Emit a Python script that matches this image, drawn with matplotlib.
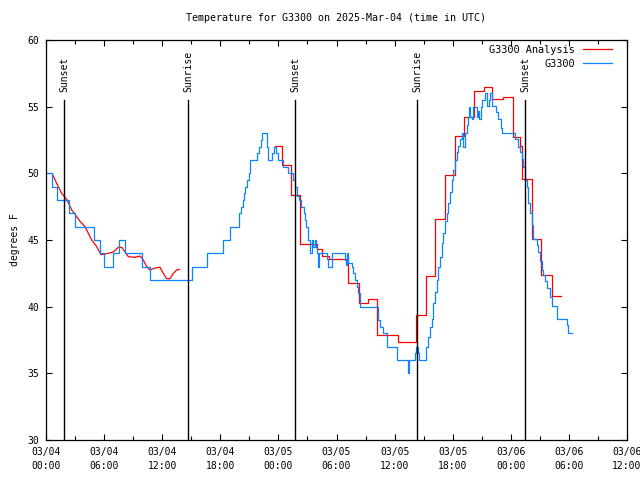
import numpy as np
import pandas as pd
import matplotlib
matplotlib.use('Agg')
import matplotlib.pyplot as plt
import matplotlib.dates as mdates

# hours since 2025-03-04 00:00 UTC
start = pd.Timestamp('2025-03-04 00:00')

# G3300 observations (step changes)
obs_hours = [0.0, 0.65, 1.1, 2.4, 3.0, 5.0, 5.6, 6.0, 6.9, 7.55, 8.2, 9.95, 10.75,
             15.1, 16.6, 18.25, 19.0, 19.9, 20.1, 20.3, 20.45, 20.6, 20.8, 20.95, 21.07,
             21.8, 22.0, 22.2, 22.3, 22.8, 22.9, 23.3, 23.55, 23.8, 24.0, 24.5, 25.0,
             25.5, 25.7, 25.9, 26.1, 26.3, 26.6, 26.75, 26.9, 27.1, 27.26, 27.43, 27.6,
             27.77, 27.87, 28.0, 28.12, 28.22, 28.99, 29.15, 29.5, 30.9, 31.0, 31.1, 31.2,
             31.57, 31.74, 31.91, 32.09, 32.25, 32.43, 34.32, 34.49, 34.83, 35.19, 36.22,
             37.35, 37.42, 37.52, 38.11, 38.21, 38.4, 38.55, 39.24, 39.48, 39.66, 39.83,
             40.0, 40.17, 40.35, 40.51, 40.69, 40.86, 41.03, 41.21, 41.38, 41.55, 41.72,
             41.9, 42.06, 42.24, 42.41, 42.58, 42.76, 42.93, 43.1, 43.25, 43.45, 43.61,
             43.72, 43.8, 43.96, 44.13, 44.48, 44.6, 44.7, 44.9, 45.05, 45.34, 45.58, 45.7,
             45.85, 46.03, 46.47, 46.71, 46.99, 47.06, 48.44, 48.78, 48.95, 49.13, 49.3,
             49.47, 49.64, 49.81, 49.98, 50.16, 50.33, 50.67, 50.84, 51.02, 51.19, 51.36,
             51.53, 51.71, 52.05, 52.23, 52.81, 53.77, 53.94, 54.29]
obs_temps = [50, 49, 48, 47, 46, 45, 44, 43, 44, 45, 44, 43, 42,
             43, 44, 45, 46, 47, 47.5, 48, 48.5, 49, 49.5, 50, 51,
             51.5, 52, 52.5, 53, 52, 51, 51.5, 52, 51.5, 51, 50.5, 50,
             49.5, 49, 48.3, 48, 47.5, 47, 46.5, 46, 45, 44, 45, 44.5,
             45, 44.5, 44, 43, 44, 43.6, 43, 44, 43.5, 43.1, 44, 43.3,
             43, 42.5, 42, 41.5, 41, 40, 39, 38.5, 38, 37, 36,
             35.25, 35, 36, 36.5, 37, 36.5, 36, 37, 37.75, 38.5, 39.1,
             40.25, 41.1, 42, 43, 43.75, 44.75, 45.5, 46.4, 47, 47.75, 48.6,
             49.5, 50.25, 51, 51.6, 52.05, 52.6, 53, 52, 53, 53.6, 54.25,
             55, 54.25, 54.1, 55, 54.25, 54.7, 54.1, 55, 55.5, 56, 55.05, 55.5,
             56, 55.05, 54.6, 54.05, 53.4, 53, 52.6, 52, 51.6, 51.1, 50.5,
             49.5, 49, 47.75, 47, 46.1, 45.1, 44.6, 44.1, 43.4, 42.75, 42.4,
             41.9, 41.4, 40.75, 40.05, 39.05, 38.6, 38, 38]

# G3300 Analysis, first night
ana1_hours = [0.69, 1.1, 1.62, 2.14, 2.65, 2.82, 3.51, 4.03, 4.72, 5.24, 5.68, 6.43,
              6.95, 7.47, 7.82, 8.5, 9.19, 9.71, 10.05, 10.4, 10.74, 11.26, 11.77,
              12.11, 12.46, 12.8, 13.15, 13.5, 13.77]
ana1_temps = [49.9, 49.25, 48.5, 48.05, 47.25, 47.1, 46.4, 46.0, 45.0, 44.5, 43.9, 44.0,
              44.1, 44.45, 44.45, 43.75, 43.7, 43.8, 43.5, 43.0, 42.75, 42.9, 42.95,
              42.5, 42.1, 42.1, 42.5, 42.75, 42.8]

# G3300 Analysis, hourly steps
ana2_hours = [23.65, 24.4, 25.3, 26.2, 28.0, 28.5, 29.2, 31.2, 32.3, 33.3, 34.2, 36.35,
              38.25, 39.25, 40.2, 41.25, 42.2, 43.15, 44.2, 45.2, 46.1, 47.2, 48.2, 48.9,
              49.15, 50.15, 51.1, 52.25, 53.15]
ana2_temps = [52.05, 50.6, 48.4, 44.7, 44.3, 43.8, 43.55, 41.8, 40.25, 40.55, 37.9, 37.35,
              39.4, 42.3, 46.55, 49.85, 52.8, 54.2, 56.2, 56.45, 55.55, 55.7, 52.75, 52.05,
              49.55, 45.1, 42.4, 40.8, 40.8]

sun_times = ['2025-03-04 01:52', '2025-03-04 14:40', '2025-03-05 01:43',
             '2025-03-05 14:19', '2025-03-06 01:28']
sun_labels = ['Sunset', 'Sunrise', 'Sunset', 'Sunrise', 'Sunset']


def to_time(hours):
    return start + pd.to_timedelta(np.array(hours), unit='h')


plt.rcParams['font.family'] = ['DejaVu Sans Mono']
plt.rcParams['font.size'] = 7

fig = plt.figure(figsize=(6.4, 4.8), dpi=100)
ax = fig.add_axes([46/640, 40/480, 581/640, 400/480])

ax.plot(to_time(ana1_hours), ana1_temps, color='#ff0000', lw=0.9, label='G3300 Analysis')
ax.plot(to_time(ana2_hours), ana2_temps, color='#ff0000', lw=0.9, drawstyle='steps-post')
ax.plot(to_time(obs_hours), obs_temps, color='#0a84ff', lw=0.9, drawstyle='steps-post',
        label='G3300')

for t, lab in zip(sun_times, sun_labels):
    ts = pd.Timestamp(t)
    ax.plot([ts, ts], [30, 55.5], color='black', lw=1.0)
    ax.text(ts, 56.1, lab, rotation=90, ha='center', va='bottom', fontsize=7)

ax.set_xlim(start, start + pd.Timedelta(hours=60))
ax.set_ylim(30, 60)
ax.set_yticks(np.arange(30, 61, 5))
ax.xaxis.set_major_locator(mdates.HourLocator(byhour=range(0, 24, 6)))
ax.xaxis.set_minor_locator(mdates.HourLocator(byhour=range(0, 24, 3)))
ax.xaxis.set_major_formatter(mdates.DateFormatter('%m/%d\n%H:%M'))
for lbl in ax.get_xticklabels():
    lbl.set_linespacing(1.5)
ax.tick_params(which='both', direction='in', top=True, right=True, width=0.8)
ax.tick_params(which='major', length=4, pad=5)
ax.tick_params(which='minor', length=3)
for s in ax.spines.values():
    s.set_linewidth(0.9)

ax.set_ylabel('degrees F', labelpad=5)
ax.set_title('Temperature for G3300 on 2025-Mar-04 (time in UTC)', fontsize=7.2, pad=14)
ax.legend(loc='upper right', frameon=False, markerfirst=False, handlelength=2.8,
          handletextpad=0.8, labelspacing=0.35, borderaxespad=0, borderpad=0,
          bbox_to_anchor=((612 - 46) / 581, (440 - 45) / 400), fontsize=7.4)

fig.savefig('out.png', dpi=100)
